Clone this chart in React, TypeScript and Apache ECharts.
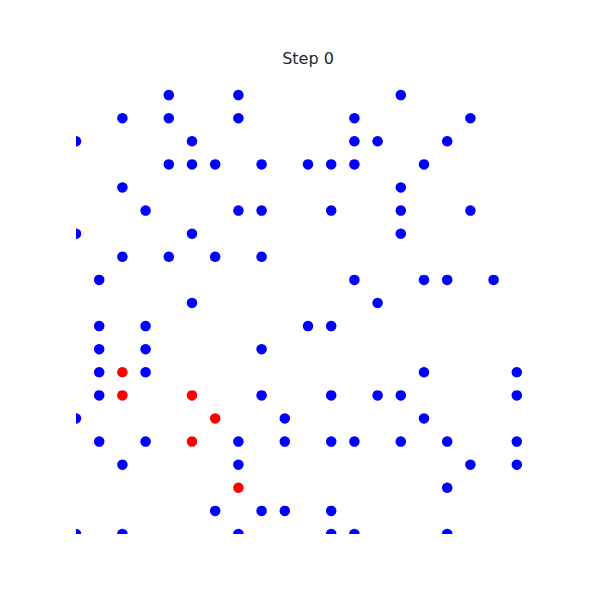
import React, { useEffect, useRef } from "react";
import * as echarts from "echarts";

// [column, row] grid cells; rows counted from the top of the board
const bluePoints: [number, number][] = [
  [4, 1], [7, 1], [14, 1],
  [2, 2], [4, 2], [7, 2], [12, 2], [17, 2],
  [0, 3], [5, 3], [12, 3], [13, 3], [16, 3],
  [4, 4], [5, 4], [6, 4], [8, 4], [10, 4], [11, 4], [12, 4], [15, 4],
  [2, 5], [14, 5],
  [3, 6], [7, 6], [8, 6], [11, 6], [14, 6], [17, 6],
  [0, 7], [5, 7], [14, 7],
  [2, 8], [4, 8], [6, 8], [8, 8],
  [1, 9], [12, 9], [15, 9], [16, 9], [18, 9],
  [5, 10], [13, 10],
  [1, 11], [3, 11], [10, 11], [11, 11],
  [1, 12], [3, 12], [8, 12],
  [1, 13], [3, 13], [15, 13], [19, 13],
  [1, 14], [8, 14], [11, 14], [13, 14], [14, 14], [19, 14],
  [0, 15], [9, 15], [15, 15],
  [1, 16], [3, 16], [7, 16], [9, 16], [11, 16], [12, 16], [14, 16], [16, 16], [19, 16],
  [2, 17], [7, 17], [17, 17], [19, 17],
  [16, 18],
  [6, 19], [8, 19], [9, 19], [11, 19],
  [0, 20], [2, 20], [7, 20], [11, 20], [12, 20], [16, 20],
];

const redPoints: [number, number][] = [
  [2, 13], [2, 14], [5, 14], [6, 15], [5, 16], [7, 18],
];

const titleText = "Step 0";

export default function App() {
  const ref = useRef<HTMLDivElement>(null);
  useEffect(() => {
    if (!ref.current) return;
    const chart = echarts.init(ref.current, null, { renderer: "svg" });
    chart.setOption({
      animation: false,
      backgroundColor: "#ffffff",
      graphic: [
        // white masks outside the plotting area so that edge dots are cut in half
        { type: "rect", z: 100, shape: { x: 0, y: 0, width: 76, height: 600 }, style: { fill: "#ffffff" }, silent: true },
        { type: "rect", z: 100, shape: { x: 0, y: 534, width: 600, height: 66 }, style: { fill: "#ffffff" }, silent: true },
        { type: "rect", z: 100, shape: { x: 540, y: 0, width: 60, height: 600 }, style: { fill: "#ffffff" }, silent: true },
        { type: "rect", z: 100, shape: { x: 0, y: 0, width: 600, height: 72 }, style: { fill: "#ffffff" }, silent: true },
        {
          type: "text",
          z: 101,
          x: 308,
          y: 58,
          style: {
            text: titleText,
            fontSize: 16,
            fontFamily: "DejaVu Sans",
            fill: "#262626",
            align: "center",
            verticalAlign: "middle",
          },
        },
      ],
      grid: { left: 76, right: 60, top: 72, bottom: 66 },
      xAxis: {
        type: "value",
        min: 0,
        max: 20,
        show: false,
      },
      yAxis: {
        type: "value",
        min: 0,
        max: 20,
        inverse: true,
        show: false,
      },
      series: [
        {
          type: "scatter",
          data: bluePoints,
          symbolSize: 10.5,
          clip: true,
          itemStyle: { color: "#0000ff", opacity: 1 },
          silent: true,
        },
        {
          type: "scatter",
          data: redPoints,
          symbolSize: 10.5,
          clip: true,
          itemStyle: { color: "#ff0000", opacity: 1 },
          silent: true,
        },
      ],
    });
    return () => chart.dispose();
  }, []);
  return <div ref={ref} style={{ width: 600, height: 600, position: "absolute", left: 0, top: 0 }} />;
}
